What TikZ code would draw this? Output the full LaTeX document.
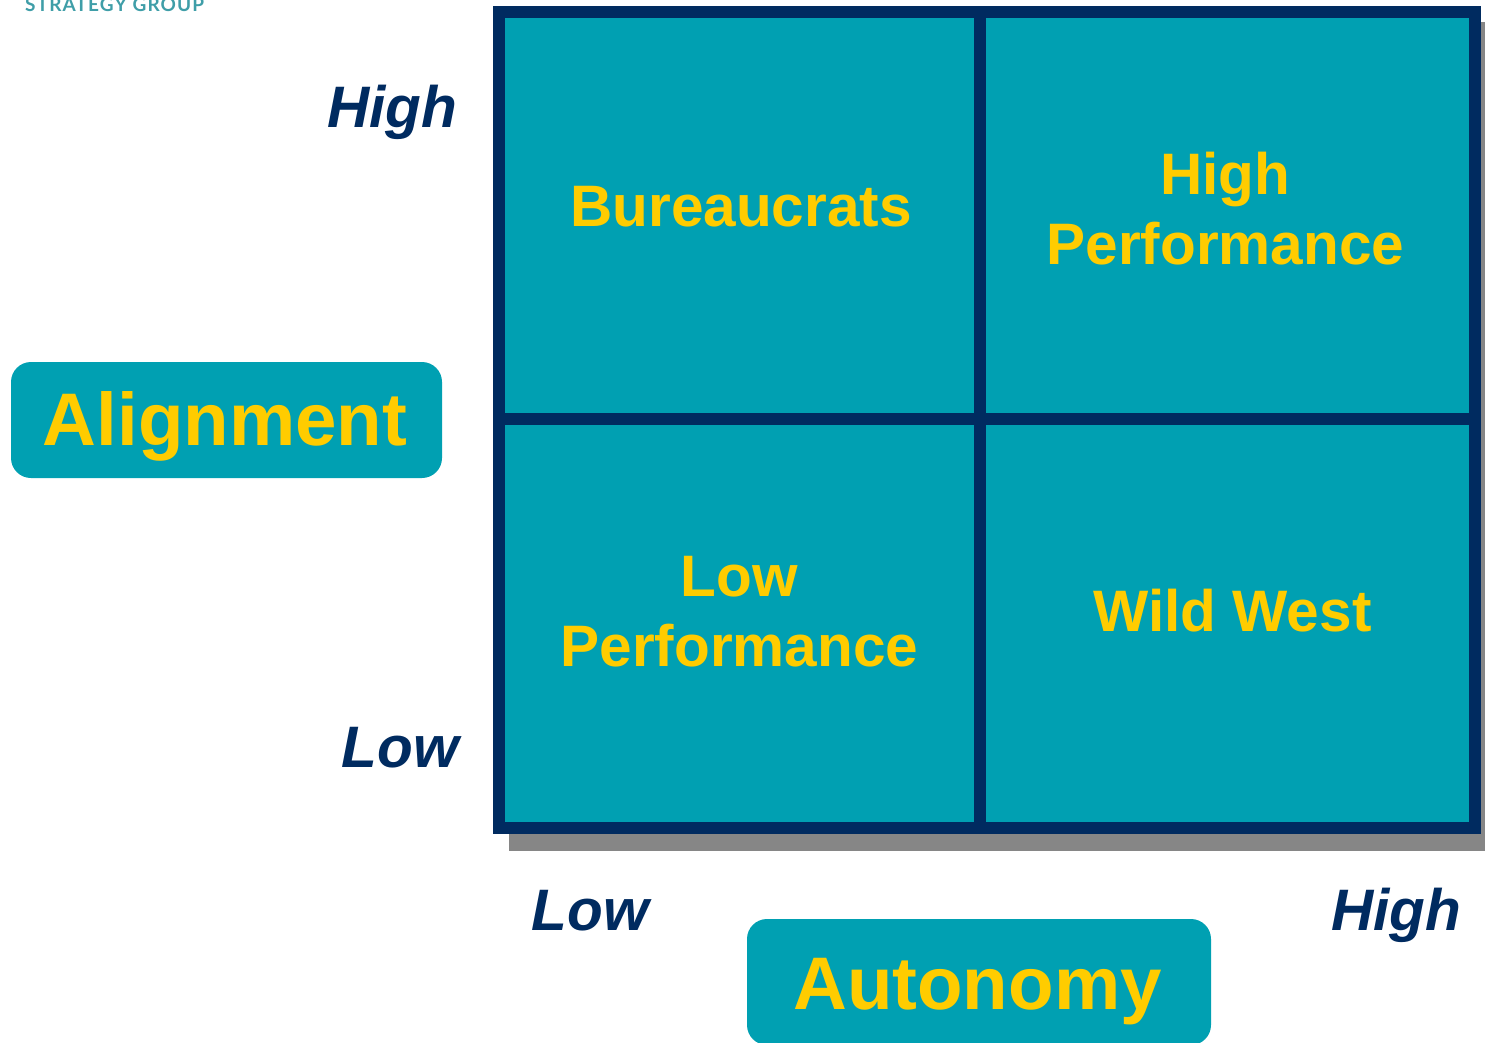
\documentclass[tikz,border=0pt]{standalone}
\usepackage{fontspec}
\setmainfont{Liberation Sans}
\newfontfamily\logofont[LetterSpace=6]{Lato}
\definecolor{teal1}{HTML}{00A0B2}
\definecolor{navy1}{HTML}{002B60}
\definecolor{gold1}{HTML}{FFCC00}
\definecolor{shade1}{HTML}{868686}
\definecolor{logo1}{HTML}{3F9EA8}
\tikzset{
  cell/.style={anchor=base,align=center,font=\bfseries\fontsize{58.5}{70}\selectfont,text=gold1,inner sep=0pt},
  axislabel/.style={anchor=base,font=\bfseries\fontsize{74.5}{74}\selectfont,text=gold1,inner sep=0pt},
  ticklabel/.style={anchor=base,font=\bfseries\itshape\fontsize{58.5}{58}\selectfont,text=navy1,inner sep=0pt},
  axisbox/.style={fill=teal1,rounded corners=20pt,draw=none},
  gridline/.style={draw=navy1,line width=12pt}
}
\begin{document}
\begin{tikzpicture}[x=1pt,y=-1pt]
\useasboundingbox (0,0) rectangle (1485,1042);
\clip (0,0) rectangle (1485,1042);
\fill[white] (0,0) rectangle (1485,1042);
\node[anchor=base west,inner sep=0pt,text=logo1,font=\logofont\bfseries\fontsize{19}{19}\selectfont] (logo) at (25,11) {STRATEGY GROUP};
\fill[shade1] (509,22) rectangle (1485,851);
\fill[teal1] (499,12) rectangle (1475,828);
\draw[gridline] (499,12) rectangle (1475,828);
\draw[gridline] (980,12) -- (980,828);
\draw[gridline] (499,419) -- (1475,419);
\node[cell] (bur) at (741,226.5) {Bureaucrats};
\node[cell] (hi1) at (1225,194.5) {High};
\node[cell] (hi2) at (1225.5,264.5) {Performance};
\node[cell] (lo1) at (739,596) {Low};
\node[cell] (lo2) at (739.5,666) {Performance};
\node[cell] (ww) at (1232.5,631) {Wild West};
\fill[axisbox] (11,362) rectangle (442,478);
\node[axislabel] (ali) at (225,445) {Alignment};
\fill[axisbox] (747,919) rectangle (1211,1045);
\node[axislabel] (aut) at (977.5,1009) {Autonomy};
\node[ticklabel] (hy) at (392,127.5) {High};
\node[ticklabel] (ly) at (400,767) {Low};
\node[ticklabel] (lx) at (590,930) {Low};
\node[ticklabel] (hx) at (1396,930.5) {High};
\end{tikzpicture}
\end{document}
